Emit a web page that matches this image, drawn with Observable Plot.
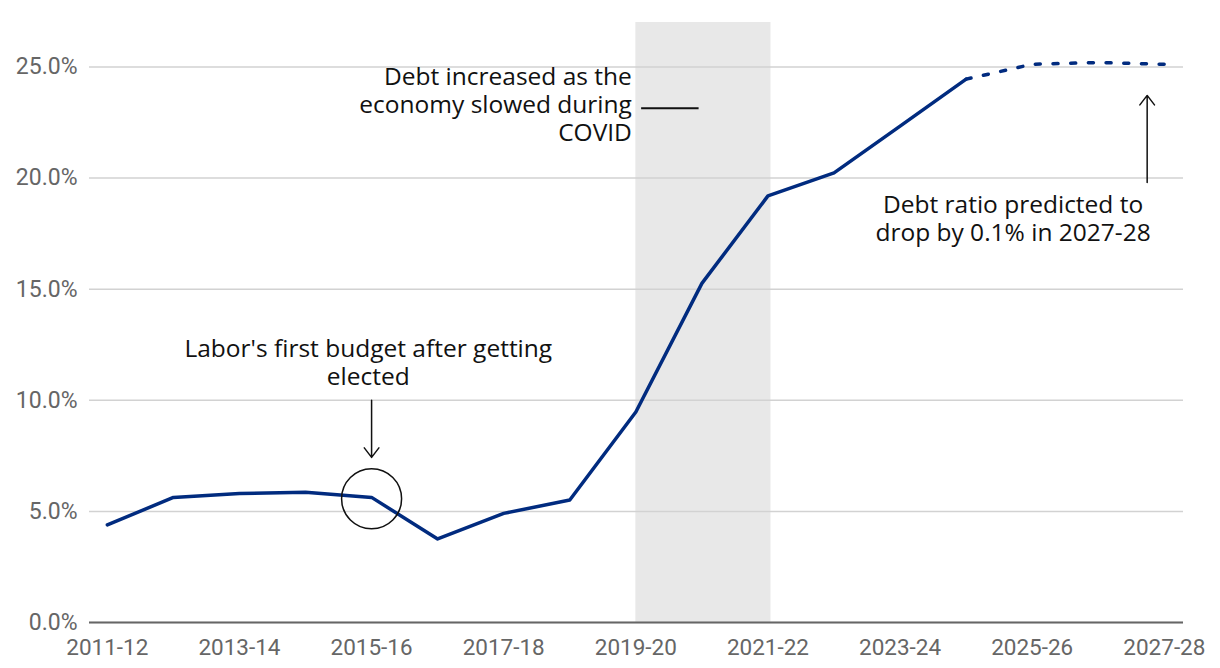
<!DOCTYPE html>
<html>
<head>
<meta charset="utf-8">
<script src="https://cdn.jsdelivr.net/npm/d3@7"></script>
<script src="https://cdn.jsdelivr.net/npm/@observablehq/plot@0.6"></script>
<style>
  html, body { margin: 0; padding: 0; background: #fff; }
  #chart svg { display: block; }
</style>
</head>
<body>
<div id="chart"></div>
<script>
// ---- data ----
const years = ["2011-12","2012-13","2013-14","2014-15","2015-16","2016-17","2017-18","2018-19",
  "2019-20","2020-21","2021-22","2022-23","2023-24","2024-25","2025-26","2026-27","2027-28"];
const debtRatio = [4.39, 5.63, 5.80, 5.86, 5.63, 3.76, 4.91, 5.51,
  9.47, 15.26, 19.20, 20.23, 22.34, 24.45, 25.12, 25.20, 25.12];
const forecastFrom = "2024-25";
const covidStart = "2019-20";
const covidEnd = "2021-22";
const yTicks = [0, 5, 10, 15, 20, 25];
const xTickLabels = ["2011-12","2013-14","2015-16","2017-18","2019-20","2021-22","2023-24","2025-26","2027-28"];

// annotation texts (positions in data units: year index, percent)
const notes = [
  {text: "Debt increased as the\neconomy slowed during\nCOVID", x: 7.94, y: 23.33, anchor: "end"},
  {text: "Labor's first budget after getting\nelected", x: 3.95, y: 11.7, anchor: "middle"},
  {text: "Debt ratio predicted to\ndrop by 0.1% in 2027-28", x: 13.71, y: 18.2, anchor: "middle"}
];
const arrows = [
  {x1: 4, y1: 10.0, x2: 4, y2: 7.43},
  {x1: 15.74, y1: 19.8, x2: 15.74, y2: 23.72}
];
const connector = [{x1: 8.08, x2: 8.95, y: 23.14}];
const circled = [{x: 4, y: 5.57}];

// ---- build table ----
const idx = y => years.indexOf(y);
const table = years.map((y, i) => ({i, year: y, value: debtRatio[i]}));
const fIdx = idx(forecastFrom);
const actual = table.filter(d => d.i <= fIdx);
const forecast = table.filter(d => d.i >= fIdx);

const FONT = "Roboto, 'Open Sans', sans-serif";
const NOTE_FONT = "'Open Sans', Roboto, sans-serif";

const chart = Plot.plot({
  width: 1220,
  height: 668,
  marginLeft: 89,
  marginRight: 37,
  marginTop: 22,
  marginBottom: 46,
  style: {fontFamily: FONT, background: "#fff"},
  x: {domain: [-0.27, 16.29]},
  y: {domain: [0, 27]},
  marks: [
    Plot.rect([{a: idx(covidStart), b: idx(covidEnd)}], {x1: "a", x2: "b", y1: 0, y2: 27, fill: "#e8e8e8", insetRight: -3}),
    Plot.gridY(yTicks, {stroke: "#d2d2d2", strokeOpacity: 1, strokeWidth: 1.5}),
    Plot.axisY(yTicks, {tickSize: 0, tickPadding: 12, fontSize: 23, color: "#666",
      tickFormat: d => d.toFixed(1) + "%", label: null}),
    Plot.axisX(xTickLabels.map(idx), {tickSize: 0, tickPadding: 17, fontSize: 22.5, color: "#666",
      tickFormat: i => years[i], label: null}),
    Plot.ruleY([0], {stroke: "#666", strokeWidth: 2}),
    Plot.line(actual, {x: "i", y: "value", stroke: "#012b7f", strokeWidth: 3.5, strokeLinejoin: "round", strokeLinecap: "round"}),
    Plot.line(forecast, {x: "i", y: "value", stroke: "#012b7f", strokeWidth: 3.5, strokeDasharray: "5,12.7", strokeLinecap: "round"}),
    Plot.dot(circled, {x: "x", y: "y", r: 30, stroke: "#111", strokeWidth: 1.5, fill: "none"}),
    Plot.arrow(arrows, {x1: "x1", y1: "y1", x2: "x2", y2: "y2", stroke: "#111", strokeWidth: 1.5, headLength: 12, headAngle: 75}),
    Plot.link(connector, {x1: "x1", x2: "x2", y1: "y", y2: "y", stroke: "#111", strokeWidth: 2}),
    Plot.text(notes.filter(d => d.anchor === "end"), {x: "x", y: "y", text: "text", textAnchor: "end", lineAnchor: "middle", fontSize: 24.5, lineHeight: 1.14, fill: "#111", fontFamily: NOTE_FONT}),
    Plot.text(notes.filter(d => d.anchor === "middle"), {x: "x", y: "y", text: "text", textAnchor: "middle", lineAnchor: "middle", fontSize: 24.5, lineHeight: 1.14, fill: "#111", fontFamily: NOTE_FONT})
  ]
});
document.getElementById("chart").appendChild(chart);
</script>
</body>
</html>
